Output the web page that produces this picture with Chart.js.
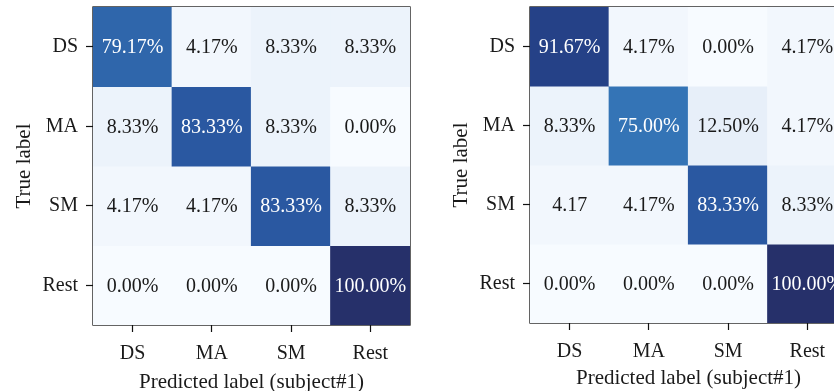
<!DOCTYPE html>
<html>
<head>
<meta charset="utf-8">
<script src="https://cdn.jsdelivr.net/npm/chart.js@4/dist/chart.umd.min.js"></script>
<style>
  html, body { margin: 0; padding: 0; background: #ffffff; width: 834px; height: 391px; overflow: hidden; position: relative; }
  .panel { position: absolute; top: 0; width: 420px; height: 391px; }
  #panelLeft { left: 0; }
  #panelRight { left: 437px; }
</style>
</head>
<body>
<div class="panel" id="panelLeft"><canvas id="cmLeft"></canvas></div>
<div class="panel" id="panelRight"><canvas id="cmRight"></canvas></div>
<script>
// Class names on both axes
const predictedLabels = ['DS', 'MA', 'SM', 'Rest'];
const trueLabels = ['DS', 'MA', 'SM', 'Rest'];

// Row-normalised confusion matrices (percent), rows = true label, columns = predicted label
const leftMatrix = [
  [79.17, 4.17, 8.33, 8.33],
  [8.33, 83.33, 8.33, 0.00],
  [4.17, 4.17, 83.33, 8.33],
  [0.00, 0.00, 0.00, 100.00]
];
const rightMatrix = [
  [91.67, 4.17, 0.00, 4.17],
  [8.33, 75.00, 12.50, 4.17],
  [4.17, 4.17, 83.33, 8.33],
  [0.00, 0.00, 0.00, 100.00]
];
// Cells printed without the percent sign: [row, column]
const rightPlainCells = [[2, 0]];

const xTitleText = 'Predicted label (subject#1)';
const yTitleText = 'True label';

// Blues-style colour ramp
const rampStops = [
  [0, [247, 251, 255]],
  [12.5, [231, 239, 249]],
  [25, [201, 220, 240]],
  [50, [111, 169, 214]],
  [75, [52, 116, 182]],
  [87.5, [37, 74, 150]],
  [100, [38, 48, 106]]
];
function rampColor(v) {
  for (let i = 1; i < rampStops.length; i++) {
    const [v1, c1] = rampStops[i];
    const [v0, c0] = rampStops[i - 1];
    if (v <= v1) {
      const t = (v - v0) / (v1 - v0);
      const c = c0.map((a, k) => Math.round(a + (c1[k] - a) * t));
      return `rgb(${c[0]},${c[1]},${c[2]})`;
    }
  }
  const c = rampStops[rampStops.length - 1][1];
  return `rgb(${c[0]},${c[1]},${c[2]})`;
}

const serif = '"Liberation Serif", "Times New Roman", serif';

// Frame around the plot area
const framePlugin = {
  id: 'frame',
  beforeDatasetsDraw(chart) {
    const { ctx, chartArea: a } = chart;
    ctx.save();
    ctx.strokeStyle = '#111111';
    ctx.lineWidth = 1.3;
    ctx.strokeRect(a.left, a.top, a.right - a.left, a.bottom - a.top);
    ctx.restore();
  }
};

// Percent text in every cell
const cellTextPlugin = {
  id: 'cellText',
  afterDatasetsDraw(chart, args, opts) {
    const { ctx, scales: { x, y } } = chart;
    const matrix = opts.matrix;
    const plain = opts.plain || [];
    ctx.save();
    ctx.font = `20px ${serif}`;
    ctx.textAlign = 'center';
    ctx.textBaseline = 'middle';
    matrix.forEach((row, r) => {
      row.forEach((v, c) => {
        const isPlain = plain.some(p => p[0] === r && p[1] === c);
        const txt = v.toFixed(2) + (isPlain ? '' : '%');
        ctx.fillStyle = v > 50 ? '#ffffff' : '#1a1a1a';
        ctx.fillText(txt, x.getPixelForValue(c), y.getPixelForValue(r) + 1);
      });
    });
    ctx.restore();
  }
};

function buildConfusionChart(canvasId, matrix, plain, bottomPad, xAxisHeight) {
  const datasets = matrix.map((row, r) => ({
    label: trueLabels[r],
    data: row.map(() => [r - 0.5, r + 0.5]),
    backgroundColor: row.map(v => rampColor(v)),
    borderWidth: 0,
    barPercentage: 1,
    categoryPercentage: 1,
    grouped: false,
    inflateAmount: 0.6
  }));

  return new Chart(document.getElementById(canvasId), {
    type: 'bar',
    data: { labels: predictedLabels, datasets },
    plugins: [framePlugin, cellTextPlugin],
    options: {
      responsive: true,
      maintainAspectRatio: false,
      animation: false,
      layout: { padding: { left: 0, right: 10, top: 7, bottom: bottomPad } },
      plugins: {
        legend: { display: false },
        tooltip: { enabled: false },
        cellText: { matrix, plain }
      },
      scales: {
        x: {
          type: 'category',
          offset: true,
          grid: {
            offset: false,
            drawOnChartArea: false,
            drawTicks: true,
            tickLength: 7,
            tickColor: '#111111',
            tickWidth: 1.2
          },
          border: { display: false },
          ticks: {
            color: '#1a1a1a',
            font: { family: serif, size: 20 },
            padding: 10,
            maxRotation: 0
          },
          title: {
            display: true,
            text: xTitleText,
            color: '#1a1a1a',
            font: { family: serif, size: 21, lineHeight: 1 },
            padding: { top: 0, bottom: -2 }
          },
          afterFit(axis) {
            axis.height = xAxisHeight;
            axis.paddingLeft = 0;
            axis.paddingRight = 0;
          }
        },
        y: {
          type: 'linear',
          min: -0.5,
          max: 3.5,
          reverse: true,
          afterBuildTicks(axis) {
            axis.ticks = trueLabels.map((_, i) => ({ value: i }));
          },
          grid: {
            drawOnChartArea: false,
            drawTicks: true,
            tickLength: 7,
            tickColor: '#111111',
            tickWidth: 1.2
          },
          border: { display: false },
          ticks: {
            color: '#1a1a1a',
            font: { family: serif, size: 20 },
            padding: 8,
            callback: (v) => trueLabels[v]
          },
          title: {
            display: true,
            text: yTitleText,
            color: '#1a1a1a',
            font: { family: serif, size: 21, lineHeight: 1 },
            padding: { top: 14, bottom: 0 }
          },
          afterFit(axis) {
            axis.width = 93;
            axis.paddingTop = 0;
            axis.paddingBottom = 0;
          }
        }
      }
    }
  });
}

buildConfusionChart('cmLeft', leftMatrix, [], 0, 66);
buildConfusionChart('cmRight', rightMatrix, rightPlainCells, 4, 64);
</script>
</body>
</html>
